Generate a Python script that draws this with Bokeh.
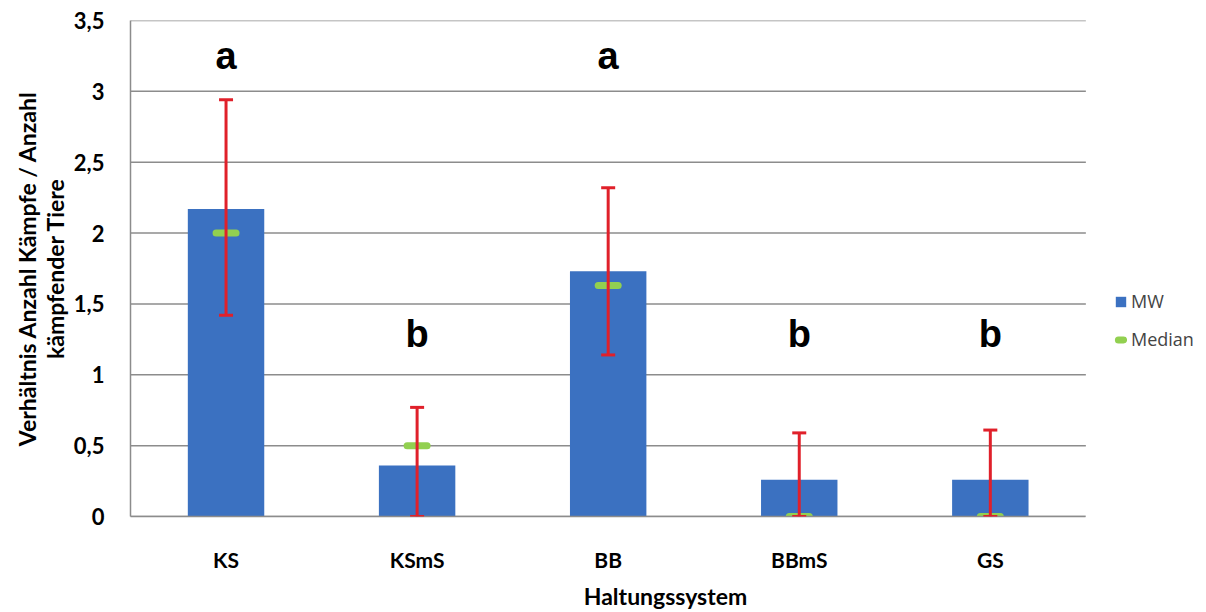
from bokeh.plotting import figure
from bokeh.models import (ColumnDataSource, Legend, LegendItem, CustomJSTickFormatter,
                          FixedTicker, Whisker, Range1d)
from bokeh.core.properties import value
from bokeh.embed import file_html
from bokeh.resources import INLINE

categories = ["KS", "KSmS", "BB", "BBmS", "GS"]
mw = [2.17, 0.36, 1.73, 0.26, 0.26]
err_upper = [2.94, 0.77, 2.32, 0.59, 0.61]
err_lower = [1.42, 0.0, 1.14, 0.0, 0.0]
median = [2.0, 0.5, 1.63, 0.0, 0.0]
letters = ["a", "b", "a", "b", "b"]
letter_y = [3.25, 1.29, 3.25, 1.29, 1.29]
y_ticks = [0, 0.5, 1, 1.5, 2, 2.5, 3, 3.5]

n = len(categories)
xs = [i + 0.5 for i in range(n)]
src = ColumnDataSource(dict(x=xs, cat=categories, mw=mw, up=err_upper, lo=err_lower,
                            med=median, let=letters, ly=letter_y))

p = figure(x_range=Range1d(0, n + 0.6), y_range=Range1d(0, 3.5), width=1200, height=612,
           output_backend="svg", toolbar_location=None,
           min_border_left=130, min_border_right=0, min_border_top=20, min_border_bottom=96)
p.outline_line_color = None
p.background_fill_color = "white"
p.xgrid.grid_line_color = None
p.ygrid.grid_line_color = None

grid_src = ColumnDataSource(dict(y=y_ticks, x0=[0] * len(y_ticks), x1=[n] * len(y_ticks)))
p.segment(x0="x0", x1="x1", y0="y", y1="y", source=grid_src, line_color="#8c8c8c", line_width=1.5)

bars = p.vbar(x="x", top="mw", width=0.4, source=src, fill_color="#3b71c1", line_color=None)

meds = p.scatter(x="x", y="med", marker="dash", size=20, line_width=7, line_cap="round",
                 source=src, line_color="#92d050", fill_color="#92d050")

w = Whisker(base="x", upper="up", lower="lo", source=src, line_color="#e0202a", line_width=3,
            level="overlay")
for h in (w.upper_head, w.lower_head):
    h.line_color = "#e0202a"
    h.line_width = 3
    h.size = 14
p.add_layout(w)

p.text(x="x", y="ly", text="let", source=src, text_align="center", text_baseline="middle",
       text_font=value("Liberation Sans"), text_font_style="bold", text_font_size="38px",
       text_color="black")

p.yaxis.ticker = FixedTicker(ticks=y_ticks)
p.yaxis.formatter = CustomJSTickFormatter(code="return tick.toString().replace('.', ',');")
p.xaxis.ticker = FixedTicker(ticks=xs)
p.xaxis.formatter = CustomJSTickFormatter(args=dict(labels=categories),
                                          code="return labels[Math.floor(tick)];")
p.xaxis.bounds = (0, n)

for ax in (p.xaxis, p.yaxis):
    ax.major_tick_line_color = None
    ax.minor_tick_line_color = None
    ax.axis_line_color = "#8c8c8c"
    ax.axis_line_width = 1.5
    ax.major_label_text_font = "Lato"
    ax.major_label_text_font_style = "bold"
    ax.major_label_text_color = "black"
    ax.axis_label_text_font = "Lato"
    ax.axis_label_text_font_style = "bold"
    ax.axis_label_text_font_size = "23px"
    ax.axis_label_text_color = "black"

p.yaxis.major_label_text_font_size = "22px"
p.xaxis.major_label_text_font_size = "21px"
p.yaxis.major_label_standoff = 20
p.xaxis.major_label_standoff = 24
p.xaxis.axis_label = "Haltungssystem"
p.xaxis.axis_label_standoff = 7
p.yaxis.axis_label = "Verhältnis Anzahl Kämpfe / Anzahl\nkämpfender Tiere"
p.yaxis.axis_label_standoff = 2
p.yaxis.axis_label_text_line_height = 1.0

legend = Legend(items=[LegendItem(label="MW", renderers=[bars]),
                       LegendItem(label="Median", renderers=[meds])],
                location=(984, 165), border_line_color=None, background_fill_alpha=0,
                label_text_font="Open Sans", label_text_font_size="18px",
                glyph_width=13, glyph_height=13, spacing=14, label_standoff=4,
                padding=0, margin=0)
p.add_layout(legend, "center")

open("out.html", "w").write(file_html(p, INLINE))
